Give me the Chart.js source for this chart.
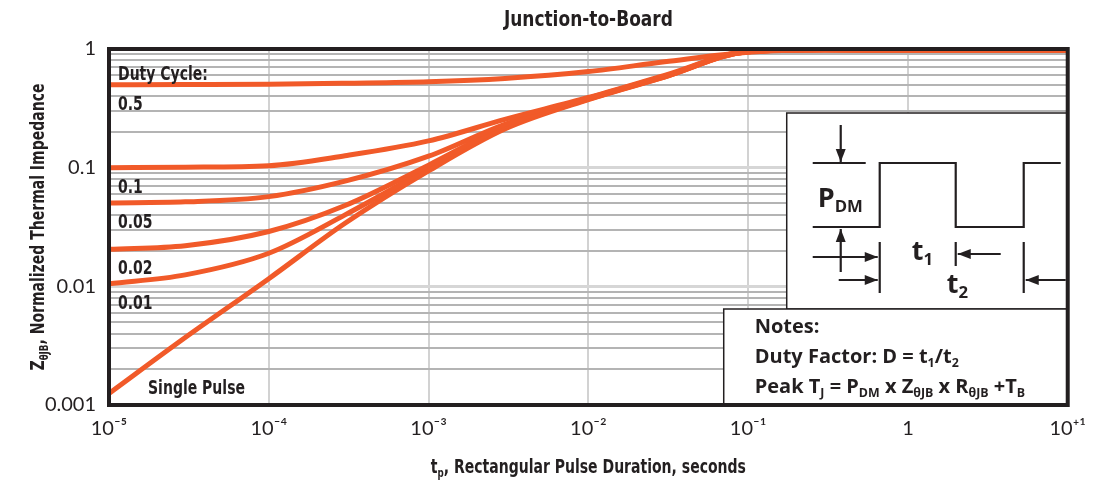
<!DOCTYPE html>
<html>
<head>
<meta charset="utf-8">
<script src="https://cdn.jsdelivr.net/npm/chart.js@4.4.1/dist/chart.umd.min.js"></script>
<style>
  html, body { margin: 0; padding: 0; background: #fff; }
</style>
</head>
<body>
<canvas id="zChart" width="1098" height="491"></canvas>
<script>
// pulse durations (s) and normalized impedance
const durations   = [1e-5, 3e-5, 1e-4, 3e-4, 1e-3, 3e-3, 1e-2, 3e-2, 1e-1, 3e-1, 1, 10];
const duty05      = [0.500, 0.502, 0.505, 0.515, 0.530, 0.565, 0.645, 0.780, 0.940, 0.980, 0.980, 0.980];
const duty01      = [0.100, 0.101, 0.104, 0.126, 0.168, 0.255, 0.390, 0.600, 0.955, 0.985, 0.980, 0.980];
const duty005     = [0.0505, 0.0515, 0.057, 0.077, 0.125, 0.232, 0.385, 0.590, 0.955, 0.985, 0.980, 0.980];
const duty002     = [0.0205, 0.022, 0.029, 0.048, 0.105, 0.222, 0.380, 0.585, 0.950, 0.985, 0.980, 0.980];
const duty001     = [0.0105, 0.0125, 0.019, 0.040, 0.098, 0.218, 0.378, 0.582, 0.950, 0.985, 0.980, 0.980];
const singlePulse = [0.00125, 0.0037, 0.0116, 0.034, 0.094, 0.212, 0.375, 0.580, 0.950, 0.985, 0.980, 0.980];

const curveLabels = ['0.5', '0.1', '0.05', '0.02', '0.01'];

const xDecades    = [1e-5, 1e-4, 1e-3, 1e-2, 1e-1, 1, 10];
const xTickLabels = ['10\u207B\u2075', '10\u207B\u2074', '10\u207B\u00B3', '10\u207B\u00B2', '10\u207B\u00B9', '1', '10\u207A\u00B9'];
const yDecades    = [0.001, 0.01, 0.1, 1];
const yTickLabels = ['0.001', '0.01', '0.1', '1'];

const ORANGE = '#f15a29';
const INK = '#231f20';
const TICKFONT = "Lato, 'DejaVu Sans Condensed', sans-serif";
const BOLDFONT = "'DejaVu Sans Condensed', 'DejaVu Sans', sans-serif";
const WIDE = "'Open Sans', 'Noto Sans', sans-serif";
const SQUEEZE = 0.82;   // narrower still, closer to the condensed face of the original

// minor log ticks 1..9 per decade for the horizontal grid
const yGridValues = [];
yDecades.slice(0, -1).forEach(d => {
    for (let m = 1; m < 10; m++) yGridValues.push(+(d * m).toPrecision(3));
});
yGridValues.push(1);

const isDecade = v => yDecades.some(d => Math.abs(d - v) / d < 1e-6);

function toPoints(ys) {
    return durations.map((x, i) => ({ x: x, y: ys[i] }));
}

// text with subscript pieces: parts = [[text, 'n'|'sub']]
function richWidth(ctx, parts, size, weight, family) {
    let w = 0;
    parts.forEach(([t, k]) => {
        const s = k === 'n' ? size : size * 0.62;
        ctx.font = `${weight} ${s}px ${family}`;
        w += ctx.measureText(t).width;
    });
    return w;
}

function drawRich(ctx, x, y, parts, size, weight, family, align, hs) {
    hs = hs || 1;
    let x0 = x;
    if (align === 'center') x0 = x - richWidth(ctx, parts, size, weight, family) * hs / 2;
    ctx.save();
    ctx.translate(x0, y);
    ctx.scale(hs, 1);
    ctx.textAlign = 'left';
    ctx.textBaseline = 'alphabetic';
    let cx = 0;
    parts.forEach(([t, k]) => {
        const s = k === 'n' ? size : size * 0.62;
        ctx.font = `${weight} ${s}px ${family}`;
        const dy = k === 'sub' ? size * 0.2 : 0;
        ctx.fillText(t, cx, dy);
        cx += ctx.measureText(t).width;
    });
    ctx.restore();
}

function arrow(ctx, x1, y1, x2, y2) {
    ctx.beginPath();
    ctx.moveTo(x1, y1);
    ctx.lineTo(x2, y2);
    ctx.stroke();
    const ang = Math.atan2(y2 - y1, x2 - x1);
    const len = 13, half = 5;
    ctx.beginPath();
    ctx.moveTo(x2, y2);
    ctx.lineTo(x2 - len * Math.cos(ang) + half * Math.sin(ang), y2 - len * Math.sin(ang) - half * Math.cos(ang));
    ctx.lineTo(x2 - len * Math.cos(ang) - half * Math.sin(ang), y2 - len * Math.sin(ang) + half * Math.cos(ang));
    ctx.closePath();
    ctx.fill();
}

function line(ctx, pts) {
    ctx.beginPath();
    ctx.moveTo(pts[0][0], pts[0][1]);
    pts.slice(1).forEach(p => ctx.lineTo(p[0], p[1]));
    ctx.stroke();
}

const overlayPlugin = {
    id: 'overlay',
    afterDatasetsDraw(chart) {
        const ctx = chart.ctx;
        const a = chart.chartArea;
        const xs = chart.scales.x, ys = chart.scales.y;
        ctx.save();
        ctx.fillStyle = INK;

        // curve labels
        const lx = xs.getPixelForValue(durations[0]) + 9;
        drawRich(ctx, lx, ys.getPixelForValue(duty05[0]) - 5, [['Duty Cycle:', 'n']], 19, 'bold', BOLDFONT, 'left', SQUEEZE);
        chart.data.datasets.slice(0, 5).forEach((ds, i) => {
            drawRich(ctx, lx, ys.getPixelForValue(ds.data[0].y) + 25, [[curveLabels[i], 'n']], 19, 'bold', BOLDFONT, 'left', SQUEEZE);
        });
        drawRich(ctx, lx + 30, a.bottom - 11, [['Single Pulse', 'n']], 19, 'bold', BOLDFONT, 'left', SQUEEZE);

        // pulse diagram box
        const bx = a.right - 281, by = a.top + 64;
        ctx.fillStyle = '#fff';
        ctx.fillRect(bx, by, a.right - bx, 196);
        ctx.strokeStyle = INK;
        ctx.lineWidth = 1.5;
        ctx.strokeRect(bx, by, a.right - bx, 196);

        ctx.fillStyle = INK;
        ctx.lineWidth = 2.2;
        const hi = by + 50, lo = by + 114;
        line(ctx, [[bx + 26, hi], [bx + 79, hi]]);
        line(ctx, [[bx + 26, lo], [bx + 93, lo], [bx + 93, hi], [bx + 169, hi], [bx + 169, lo],
                   [bx + 237, lo], [bx + 237, hi], [bx + 274, hi]]);
        arrow(ctx, bx + 54, by + 12, bx + 54, hi - 1);
        arrow(ctx, bx + 54, by + 159, bx + 54, lo + 2);
        line(ctx, [[bx + 93, by + 129], [bx + 93, by + 180]]);
        line(ctx, [[bx + 169, by + 129], [bx + 169, by + 153]]);
        line(ctx, [[bx + 237, by + 129], [bx + 237, by + 180]]);
        arrow(ctx, bx + 26, by + 144, bx + 91, by + 144);
        arrow(ctx, bx + 52, by + 167, bx + 91, by + 167);
        arrow(ctx, bx + 214, by + 141, bx + 171, by + 141);
        arrow(ctx, bx + 279, by + 167, bx + 239, by + 167);

        drawRich(ctx, bx + 31, by + 94, [['P', 'n'], ['DM', 'sub']], 27, 'bold', WIDE);
        drawRich(ctx, bx + 125, by + 147, [['t', 'n'], ['1', 'sub']], 27, 'bold', WIDE);
        drawRich(ctx, bx + 160, by + 180, [['t', 'n'], ['2', 'sub']], 27, 'bold', WIDE);

        // notes box
        const nx = a.right - 344, ny = by + 196;
        ctx.fillStyle = '#fff';
        ctx.fillRect(nx, ny, a.right - nx, a.bottom - ny);
        ctx.lineWidth = 1.5;
        ctx.strokeRect(nx, ny, a.right - nx, a.bottom - ny);
        ctx.fillStyle = INK;
        drawRich(ctx, nx + 31, ny + 24, [['Notes:', 'n']], 20, 'bold', WIDE);
        drawRich(ctx, nx + 31, ny + 54, [['Duty Factor: D = t', 'n'], ['1', 'sub'], ['/t', 'n'], ['2', 'sub']], 20, 'bold', WIDE);
        drawRich(ctx, nx + 31, ny + 84, [['Peak T', 'n'], ['J', 'sub'], [' = P', 'n'], ['DM', 'sub'],
            [' x Z', 'n'], ['\u03B8JB', 'sub'], [' x R', 'n'], ['\u03B8JB', 'sub'], [' +T', 'n'], ['B', 'sub']], 20, 'bold', WIDE);

        // plot frame
        ctx.strokeStyle = INK;
        ctx.lineWidth = 4;
        ctx.strokeRect(a.left, a.top, a.right - a.left, a.bottom - a.top);
        ctx.restore();
    },
    afterDraw(chart) {
        const ctx = chart.ctx;
        const a = chart.chartArea;
        const cx = (a.left + a.right) / 2;
        const cy = (a.top + a.bottom) / 2;
        ctx.save();
        ctx.fillStyle = INK;
        drawRich(ctx, cx, 26, [['Junction-to-Board', 'n']], 21, 'bold', BOLDFONT, 'center', 0.9);
        drawRich(ctx, cx, 473, [['t', 'n'], ['p', 'sub'], [', Rectangular Pulse Duration, seconds', 'n']], 19, 'bold', BOLDFONT, 'center', SQUEEZE);
        ctx.translate(44, cy);
        ctx.rotate(-Math.PI / 2);
        drawRich(ctx, 0, 0, [['Z', 'n'], ['\u03B8JB', 'sub'], [', Normalized Thermal Impedance', 'n']], 19, 'bold', BOLDFONT, 'center', SQUEEZE);
        ctx.restore();
    }
};

const series = [duty05, duty01, duty005, duty002, duty001, singlePulse];

new Chart(document.getElementById('zChart'), {
    type: 'line',
    data: {
        datasets: series.map((ys, i) => ({
            label: i < 5 ? curveLabels[i] : 'Single Pulse',
            data: toPoints(ys),
            borderColor: ORANGE,
            borderWidth: 5,
            pointRadius: 0,
            fill: false,
            cubicInterpolationMode: 'monotone'
        }))
    },
    options: {
        responsive: false,
        animation: false,
        layout: { padding: { top: 49, right: 28, left: 0, bottom: 0 } },
        plugins: {
            legend: { display: false },
            title: { display: false },
            tooltip: { enabled: false }
        },
        scales: {
            x: {
                type: 'logarithmic',
                min: xDecades[0],
                max: xDecades[xDecades.length - 1],
                afterBuildTicks: scale => {
                    scale.ticks = xDecades.map(v => ({ value: v, major: true }));
                },
                afterFit: scale => { scale.height = 86; },
                ticks: {
                    autoSkip: false,
                    maxRotation: 0,
                    padding: 12,
                    color: INK,
                    font: { family: TICKFONT, size: 20 },
                    callback: value => {
                        const i = xDecades.findIndex(d => Math.abs(d - value) / d < 1e-6);
                        return i >= 0 ? xTickLabels[i] : '';
                    }
                },
                grid: { color: '#d2d2d2', lineWidth: 2, drawTicks: false },
                border: { display: false }
            },
            y: {
                type: 'logarithmic',
                min: yDecades[0],
                max: yDecades[yDecades.length - 1],
                afterBuildTicks: scale => {
                    scale.ticks = yGridValues.map(v => ({ value: v, major: isDecade(v) }));
                },
                afterFit: scale => { scale.width = 109; },
                ticks: {
                    autoSkip: false,
                    padding: 13,
                    color: INK,
                    font: { family: TICKFONT, size: 20 },
                    callback: value => {
                        const i = yDecades.findIndex(d => Math.abs(d - value) / d < 1e-6);
                        return i >= 0 ? yTickLabels[i] : '';
                    }
                },
                grid: {
                    drawTicks: false,
                    color: ctx => isDecade(ctx.tick.value) ? '#d6d6d6' : '#b4b4b4',
                    lineWidth: ctx => isDecade(ctx.tick.value) ? 3 : 2
                },
                border: { display: false }
            }
        }
    },
    plugins: [overlayPlugin]
});
</script>
</body>
</html>
